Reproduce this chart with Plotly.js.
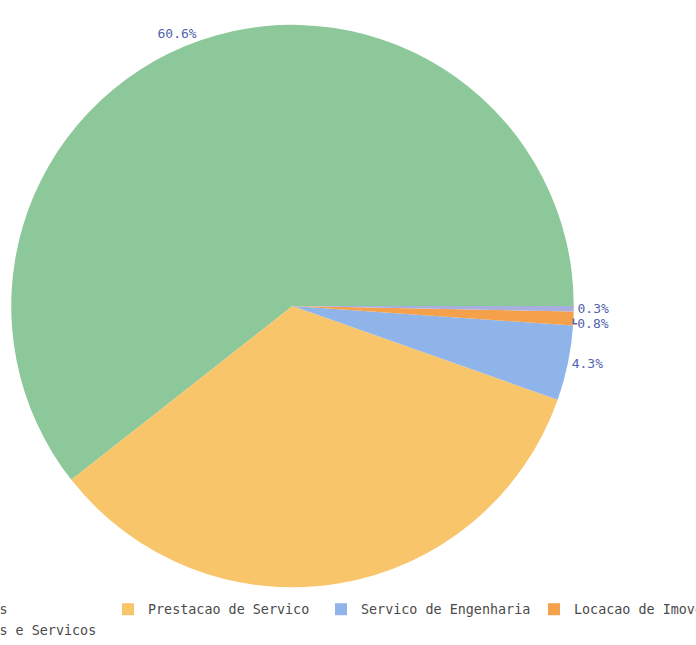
<!DOCTYPE html>
<html>
<head>
<meta charset="utf-8">
<script src="https://cdn.plot.ly/plotly-3.0.1.min.js"></script>
<style>
html, body { margin:0; padding:0; width:696px; height:645px; overflow:hidden; background:#fff; }
#chart { position:absolute; left:-110px; top:0; width:900px; height:645px; }
</style>
</head>
<body>
<div id="chart"></div>
<script>
const categories = ["\u00A0\u00A0Compras", "Prestacao de Servico", "Servico de Engenharia", "Locacao de Imoveis", "\u00A0\u00A0Compras e Servicos"];
const shares = [60.6, 34.0, 4.3, 0.8, 0.3];
const sliceColors = ["#8cc899", "#f8c56b", "#8fb4ea", "#f5a04b", "#a7aee0"];
const labelShown = ["outside", "none", "outside", "outside", "outside"];

const W = 900, H = 645, L = 110;

const trace = {
  type: "pie",
  labels: categories,
  values: shares,
  sort: false,
  direction: "counterclockwise",
  rotation: -128.16,
  marker: { colors: sliceColors, line: { width: 0 } },
  textposition: labelShown,
  texttemplate: "%{percent:.1%}",
  textfont: { family: "DejaVu Sans Mono, monospace", size: 13, color: "#5163ad" },
  hoverinfo: "label+percent",
  domain: { x: [(9 + L) / W, (576 + L) / W], y: [1 - 591 / H, 1 - 25 / H] }
};

const layout = {
  width: W,
  height: H,
  margin: { l: 0, r: 0, t: 0, b: 0 },
  paper_bgcolor: "#ffffff",
  showlegend: true,
  legend: {
    orientation: "h",
    x: (L - 105) / W,
    xanchor: "left",
    y: 1 - 598 / H,
    yanchor: "top",
    entrywidth: 168,
    entrywidthmode: "pixels",
    font: { family: "DejaVu Sans Mono, monospace", size: 13.4, color: "#4a4a4a" },
    traceorder: "normal"
  }
};

Plotly.newPlot("chart", [trace], layout, { displayModeBar: false, staticPlot: true });
</script>
</body>
</html>
